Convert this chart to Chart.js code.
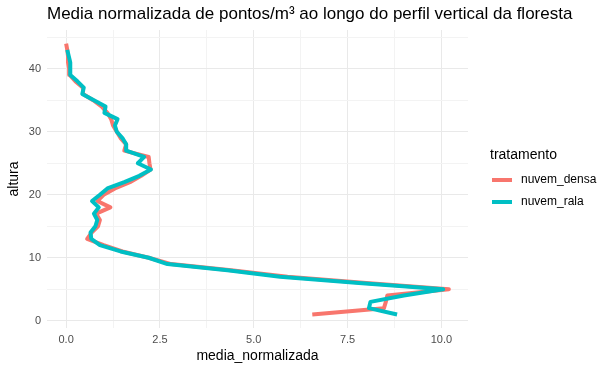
<!DOCTYPE html>
<html>
<head>
<meta charset="utf-8">
<script src="https://cdn.jsdelivr.net/npm/chart.js@4"></script>
<style>
  body { margin: 0; background: #fff; }
  canvas { display: block; }
</style>
</head>
<body>
<canvas id="perfilChart" width="612" height="373"></canvas>
<script>
// dados
const alturaDensa = [1,2,3,4,5,6,7,8,9,10,11,12,13,14,15,16,17,18,19,20,21,22,23,24,25,26,27,28,29,30,31,32,33,34,35,36,37,38,39,40,41,42,43,44];
const mediaDensa = [6.56,8.47,8.52,8.56,10.2,8.0,5.9,4.4,2.8,2.2,1.5,1.0,0.56,0.68,0.85,0.9,0.8,1.18,0.83,1.0,1.3,1.7,2.0,2.25,2.22,2.2,1.55,1.6,1.45,1.35,1.25,1.2,1.1,0.95,0.72,0.45,0.45,0.25,0.1,0.08,0.05,0.05,0.03,0.0];

const alturaRala = [1,2,3,4,5,6,7,8,9,10,11,12,13,14,15,16,17,18,19,20,21,22,23,24,25,26,27,28,29,30,31,32,33,34,35,36,37,38,39,40,41,42,43];
const mediaRala = [8.82,8.07,8.11,9.0,10.05,7.8,5.7,4.3,2.7,2.2,1.45,0.9,0.67,0.65,0.78,0.83,0.74,0.87,0.69,0.9,1.1,1.55,1.95,2.26,1.91,2.08,1.6,1.6,1.5,1.35,1.3,1.37,1.02,1.05,0.74,0.43,0.47,0.3,0.11,0.11,0.11,0.07,0.03];

const tratamentos = ['nuvem_densa', 'nuvem_rala'];
const cores = ['#F8766D', '#00BFC4'];

const xTicks = [0, 1.25, 2.5, 3.75, 5, 6.25, 7.5, 8.75, 10];
const yTicks = [0, 5, 10, 15, 20, 25, 30, 35, 40, 45];

const titulo = 'Media normalizada de pontos/m³ ao longo do perfil vertical da floresta';
const tituloX = 'media_normalizada';
const tituloY = 'altura';
const tituloLegenda = 'tratamento';

const fonte = '"Liberation Sans", Arial, Helvetica, sans-serif';

function pontos(xs, ys) {
    return xs.map((x, i) => ({ x: x, y: ys[i] }));
}

// textos no estilo ggplot
const textos = {
    id: 'textos',
    afterDraw(chart) {
        const ctx = chart.ctx;
        const area = chart.chartArea;
        ctx.save();
        ctx.fillStyle = '#000';
        ctx.textBaseline = 'middle';

        ctx.font = '17px ' + fonte;
        ctx.textAlign = 'left';
        ctx.fillText(titulo, 47, 14);

        ctx.font = '14px ' + fonte;
        ctx.textAlign = 'center';
        ctx.fillText(tituloX, (area.left + area.right) / 2, 356);

        ctx.save();
        ctx.translate(14, (area.top + area.bottom) / 2);
        ctx.rotate(-Math.PI / 2);
        ctx.fillText(tituloY, 0, 0);
        ctx.restore();

        // legenda
        ctx.textAlign = 'left';
        ctx.fillText(tituloLegenda, 490, 155);
        ctx.font = '12px ' + fonte;
        tratamentos.forEach((t, i) => {
            const y = 180 + i * 22;
            ctx.strokeStyle = cores[i];
            ctx.lineWidth = 4;
            ctx.beginPath();
            ctx.moveTo(492, y);
            ctx.lineTo(512, y);
            ctx.stroke();
            ctx.fillStyle = '#000';
            ctx.fillText(t, 521, y);
        });
        ctx.restore();
    }
};

const ctxPerfil = document.getElementById('perfilChart').getContext('2d');

const perfilChart = new Chart(ctxPerfil, {
    type: 'scatter',
    data: {
        datasets: [{
            label: tratamentos[0],
            data: pontos(mediaDensa, alturaDensa),
            borderColor: cores[0],
            order: 2
        }, {
            label: tratamentos[1],
            data: pontos(mediaRala, alturaRala),
            borderColor: cores[1],
            order: 1
        }]
    },
    options: {
        responsive: false,
        animation: false,
        devicePixelRatio: 1,
        showLine: true,
        elements: {
            point: { radius: 0, hoverRadius: 0 },
            line: { borderWidth: 4, tension: 0, borderJoinStyle: 'round', borderCapStyle: 'butt', fill: false }
        },
        layout: { padding: { left: 0, top: 30, right: 144, bottom: 0 } },
        plugins: {
            legend: { display: false },
            title: { display: false },
            tooltip: { enabled: false }
        },
        scales: {
            x: {
                type: 'linear',
                min: -0.51,
                max: 10.71,
                afterBuildTicks: s => { s.ticks = xTicks.map(v => ({ value: v })); },
                afterFit: s => { s.height = 45; },
                border: { display: false },
                grid: {
                    drawTicks: false,
                    color: c => (c.tick.value % 2.5 === 0 ? '#e9e9e9' : '#f3f3f3'),
                    lineWidth: 1
                },
                ticks: {
                    padding: 5,
                    color: '#4d4d4d',
                    font: { family: fonte, size: 11 },
                    autoSkip: false,
                    maxRotation: 0,
                    callback: v => (v % 2.5 === 0 ? v.toFixed(1) : '')
                }
            },
            y: {
                type: 'linear',
                min: -1.15,
                max: 46.15,
                afterBuildTicks: s => { s.ticks = yTicks.map(v => ({ value: v })); },
                afterFit: s => { s.width = 47; },
                border: { display: false },
                grid: {
                    drawTicks: false,
                    color: c => (c.tick.value % 10 === 0 ? '#e9e9e9' : '#f3f3f3'),
                    lineWidth: 1
                },
                ticks: {
                    padding: 6,
                    color: '#4d4d4d',
                    font: { family: fonte, size: 11 },
                    autoSkip: false,
                    callback: v => (v % 10 === 0 ? String(v) : '')
                }
            }
        }
    },
    plugins: [textos]
});
</script>
</body>
</html>
